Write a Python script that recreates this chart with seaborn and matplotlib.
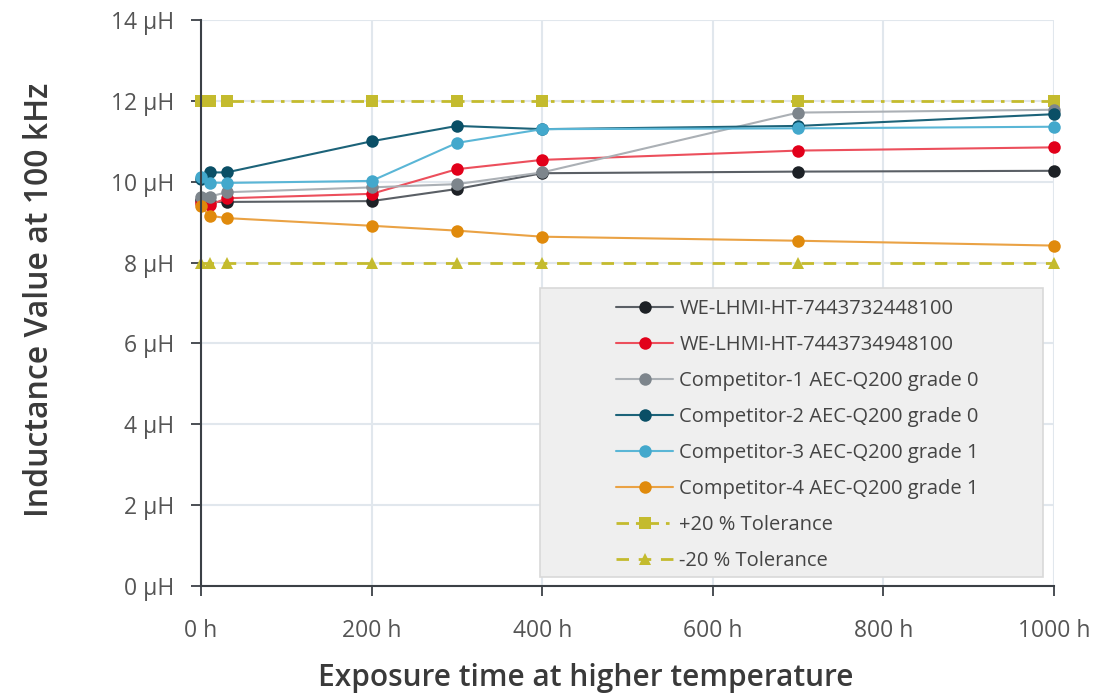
# Inductance drift vs exposure time at higher temperature

import matplotlib
matplotlib.use("Agg")
import matplotlib.pyplot as plt
from matplotlib.patches import Rectangle
import seaborn as sns

# data
hours = [0, 10, 30, 200, 300, 400, 700, 1000]
we_2448 = [9.55, 9.50, 9.50, 9.52, 9.82, 10.21, 10.25, 10.27]
we_4948 = [9.47, 9.42, 9.59, 9.70, 10.31, 10.54, 10.77, 10.85]
comp1 = [9.61, 9.63, 9.74, 9.86, 9.94, 10.23, 11.71, 11.78]
comp2 = [10.07, 10.23, 10.23, 11.00, 11.38, 11.30, 11.38, 11.67]
comp3 = [10.12, 9.98, 9.97, 10.02, 10.96, 11.30, 11.32, 11.36]
comp4 = [9.39, 9.16, 9.10, 8.91, 8.79, 8.64, 8.54, 8.42]
tol_plus = [12, 12, 12, 12, 12, 12, 12, 12]
tol_minus = [8, 8, 8, 8, 8, 8, 8, 8]

labels = ["WE-LHMI-HT-7443732448100", "WE-LHMI-HT-7443734948100",
          "Competitor-1 AEC-Q200 grade 0", "Competitor-2 AEC-Q200 grade 0",
          "Competitor-3 AEC-Q200 grade 1", "Competitor-4 AEC-Q200 grade 1",
          "+20 % Tolerance", "-20 % Tolerance"]

x_ticks = [0, 200, 400, 600, 800, 1000]
x_tick_labels = ["0 h", "200 h", "400 h", "600 h", "800 h", "1000 h"]
y_ticks = [0, 2, 4, 6, 8, 10, 12, 14]
y_tick_labels = ["0 µH", "2 µH", "4 µH", "6 µH", "8 µH", "10 µH", "12 µH", "14 µH"]

sns.set_theme(style="whitegrid")
plt.rcParams['font.family'] = ['Open Sans', 'DejaVu Sans']

fig = plt.figure(figsize=(11.17, 6.98), dpi=100)
ax = fig.add_axes([201 / 1117, 112 / 698, 853 / 1117, 566 / 698])

# (values, line colour, marker colour, marker, linestyle)
series = [
    (we_2448, "#5a5f65", "#1d2126", "o", "-"),
    (we_4948, "#ec4f5c", "#e2001a", "o", "-"),
    (comp1, "#abb0b5", "#7d858c", "o", "-"),
    (comp2, "#1c6379", "#0a4f66", "o", "-"),
    (comp3, "#5ab6d6", "#43a8cc", "o", "-"),
    (comp4, "#eaa244", "#e08a0c", "o", "-"),
    (tol_plus, "#c4bb2e", "#c4bb2e", "s", (0, (4.5, 2.5, 1.3, 2.5))),
    (tol_minus, "#c4bb2e", "#c4bb2e", "^", (0, (4.5, 3.5))),
]

# tolerance lines drawn first so data sits above
order = [6, 7, 0, 1, 2, 3, 4, 5]
for i in order:
    vals, lc, mc, mk, ls = series[i]
    lw = 2.0 if i >= 6 else 1.5
    sns.lineplot(x=hours, y=vals, ax=ax, color=lc, marker=mk,
                 markersize=9, markerfacecolor=mc, markeredgecolor=mc,
                 markeredgewidth=0, linewidth=lw, linestyle=ls,
                 label=labels[i], clip_on=False, zorder=3)

ax.set_xlim(0, 1000)
ax.set_ylim(0, 14)
ax.set_xticks(x_ticks)
ax.set_xticklabels(x_tick_labels)
ax.set_yticks(y_ticks)
ax.set_yticklabels(y_tick_labels)

ax.grid(True, color="#e1e7ed", linewidth=1.5)
ax.set_facecolor("white")
for side in ["top", "right"]:
    ax.spines[side].set_visible(False)
for side in ["left", "bottom"]:
    ax.spines[side].set_visible(True)
    ax.spines[side].set_color("#3b4046")
    ax.spines[side].set_linewidth(1.5)
    ax.spines[side].set_zorder(4)

ax.tick_params(axis="both", which="major", direction="out", length=7,
               width=1.3, color="#3b4046", labelsize=16.5, labelcolor="#555555",
               bottom=True, left=True)
ax.tick_params(axis="x", pad=17)
ax.tick_params(axis="y", pad=12)

ax.set_xlabel("Exposure time at higher temperature", fontsize=21.5,
              fontweight="semibold", color="#3a3a3a", va="center")
ax.xaxis.set_label_coords(0.451, -0.162)
ax.set_ylabel("Inductance Value at 100 kHz", fontsize=23,
              fontweight="semibold", color="#3a3a3a", va="center")
ax.yaxis.set_label_coords(-0.189, 0.505)

# legend background box
ax.add_patch(Rectangle((0.397, 0.016), 0.590, 0.511, transform=ax.transAxes,
                       facecolor="#efefef", edgecolor="#d9d9d9",
                       linewidth=1.2, zorder=5))

handles, labs = ax.get_legend_handles_labels()
hmap = dict(zip(labs, handles))
leg = ax.legend([hmap[l] for l in labels], labels, loc="upper left",
                bbox_to_anchor=(0.4865, 0.507), frameon=False, fontsize=14.5,
                handlelength=2.85, handletextpad=0.3, labelspacing=0.795,
                borderpad=0, borderaxespad=0)
leg.set_zorder(6)
for t in leg.get_texts():
    t.set_color("#444444")

fig.savefig("out.png", dpi=100)
